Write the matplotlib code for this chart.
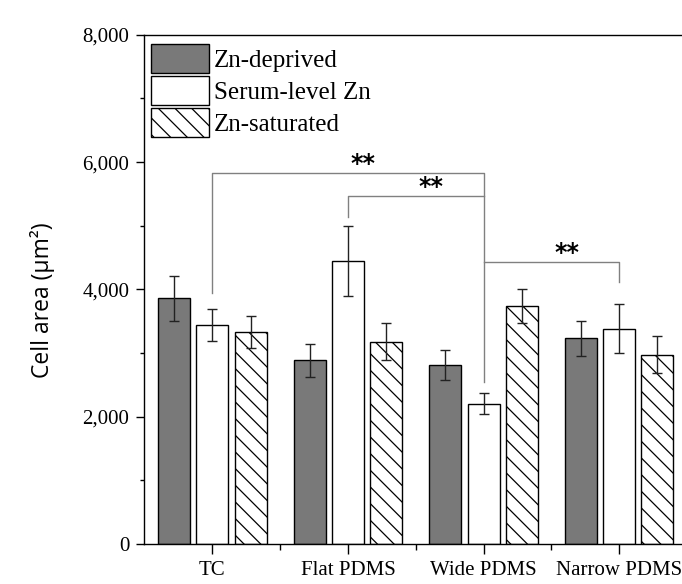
import matplotlib
matplotlib.use("Agg")
import matplotlib.pyplot as plt
import numpy as np
from matplotlib.ticker import FuncFormatter, MultipleLocator, FixedLocator

# ------------------------------------------------------------------
# Data
# ------------------------------------------------------------------
substrates = ["TC", "Flat PDMS", "Wide PDMS", "Narrow PDMS"]
conditions = ["Zn-deprived", "Serum-level Zn", "Zn-saturated"]

zn_deprived = [3860, 2885, 2810, 3230]
zn_deprived_err = [350, 255, 240, 270]
serum_zn = [3440, 4440, 2205, 3385]
serum_zn_err = [250, 550, 160, 380]
zn_saturated = [3335, 3175, 3740, 2975]
zn_saturated_err = [250, 290, 270, 290]

# significance brackets: (group, series) of both ends, bar height and leg ends
sig_left = [(0, 1), (1, 1), (2, 1)]
sig_right = [(2, 1), (2, 1), (3, 1)]
sig_height = [5830, 5470, 4430]
sig_left_end = [3940, 5135, 4430]
sig_right_end = [2540, 5470, 4110]
sig_label = ["**", "**", "**"]

# ------------------------------------------------------------------
# Style
# ------------------------------------------------------------------
SERIF = ["Liberation Serif", "DejaVu Serif"]
plt.rcParams["font.family"] = SERIF
plt.rcParams["hatch.linewidth"] = 0.9

values = [zn_deprived, serum_zn, zn_saturated]
errors = [zn_deprived_err, serum_zn_err, zn_saturated_err]
faces = ["#797979", "white", "white"]
hatches = [None, None, "\\\\"]

bar_w = 0.236
step = 0.2825

fig = plt.figure(figsize=(6.82, 5.84), dpi=100)
ax = fig.add_axes([0.2118, 0.0685, 0.7955, 0.872])

x = np.arange(len(substrates))
for k in range(3):
    pos = x + (k - 1) * step
    ax.bar(pos, values[k], width=bar_w, color=faces[k], edgecolor="black",
           linewidth=1.0, hatch=hatches[k], label=conditions[k], zorder=2)
    ax.errorbar(pos, values[k], yerr=errors[k], fmt="none", ecolor="#222222",
                elinewidth=1.0, capsize=3.6, capthick=1.0, zorder=3)

# significance brackets
for i in range(len(sig_height)):
    gl, sl = sig_left[i]
    gr, sr = sig_right[i]
    xl = gl + (sl - 1) * step
    xr = gr + (sr - 1) * step
    h = sig_height[i]
    ax.plot([xl, xl, xr, xr], [sig_left_end[i], h, h, sig_right_end[i]],
            color="#808080", linewidth=1.0, zorder=1)
    ax.annotate(sig_label[i], xy=((xl + xr) / 2, h), xytext=(11, 1.5),
                textcoords="offset points", ha="center", va="baseline",
                fontsize=17, fontweight="bold", family="DejaVu Sans")

# axes
ax.set_xlim(-0.5, 3.5)
ax.set_ylim(0, 8000)
ax.set_xticks(x)
ax.set_xticklabels(substrates, fontsize=15)
ax.xaxis.set_minor_locator(FixedLocator(x[:-1] + 0.5))
ax.yaxis.set_major_locator(MultipleLocator(2000))
ax.yaxis.set_minor_locator(MultipleLocator(1000))
ax.yaxis.set_major_formatter(FuncFormatter(lambda v, _: f"{int(v):,}"))

ax.tick_params(axis="y", which="major", direction="out", length=6, width=1.0,
               pad=5, labelsize=15)
ax.tick_params(axis="y", which="minor", direction="out", length=3, width=1.0)
ax.tick_params(axis="x", which="major", direction="out", length=7, width=1.0,
               pad=5, labelsize=15)
ax.tick_params(axis="x", which="minor", direction="out", length=4.3, width=1.0)

ax.spines["right"].set_visible(False)
for s in ["left", "bottom", "top"]:
    ax.spines[s].set_linewidth(1.0)

ax.set_ylabel("Cell area (μm²)", fontsize=16.5, family=["Open Sans", "DejaVu Sans"])
ax.yaxis.set_label_coords(-0.165, 0.478)

ax.legend(loc="upper left", bbox_to_anchor=(0.0124, 0.982), frameon=False,
          borderpad=0, borderaxespad=0, fontsize=18, handlelength=2.3,
          handleheight=1.39, labelspacing=0.13, handletextpad=0.2)

fig.savefig("out.png", dpi=100, facecolor="white")
